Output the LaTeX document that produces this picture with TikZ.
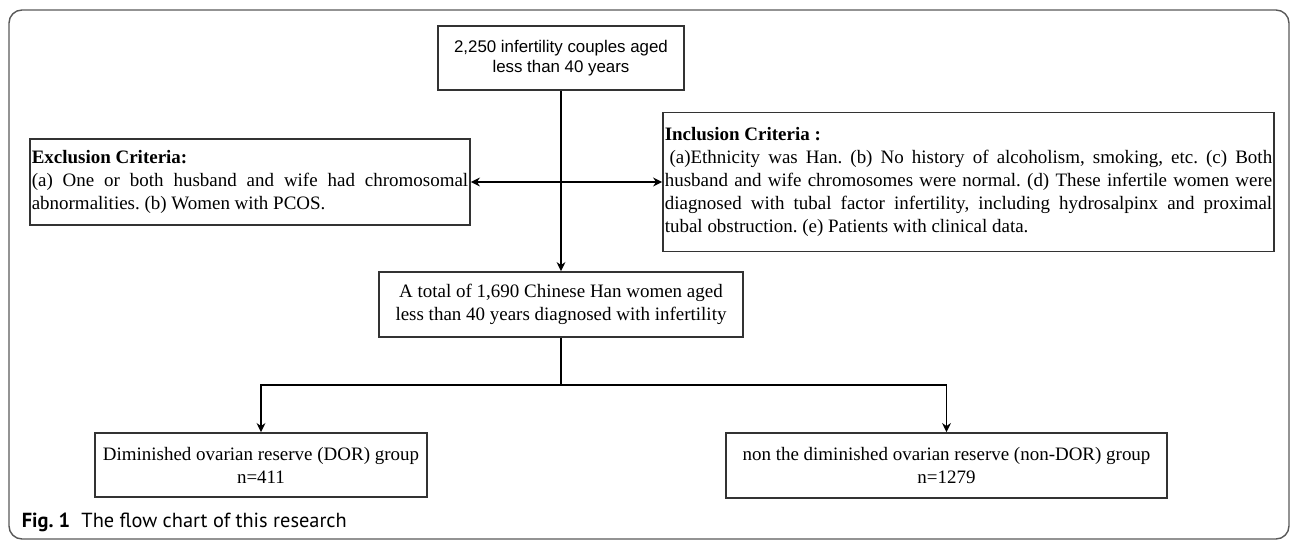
\documentclass[tikz,border=0pt]{standalone}
\usepackage{fontspec}
\setmainfont{Liberation Serif}
\setsansfont{Liberation Sans}
\newfontfamily\capfont{PT Sans}
\usetikzlibrary{arrows.meta}

\begin{document}
\frenchspacing
\begin{tikzpicture}[x=0.02cm, y=-0.02cm, line width=0.9pt, >={Stealth[length=5.2pt, width=5pt]},
        main/.style = {draw=black!80, text=black, inner sep=1pt, align=center, font=\fontsize{10.8}{13}\selectfont},
        crit/.style = {main, align=justify},
        frame/.style = {draw=black!65, line width=0.8pt, rounded corners=0.26cm}]
        \useasboundingbox (0,0) rectangle (1292,540);
        \draw[frame] (9,10) rectangle (1289,539);

        \node[main, font=\sffamily\fontsize{9.6}{11.3}\selectfont, minimum width=4.92cm, minimum height=1.28cm] (couples) at (561,58) {2,250 infertility couples aged\\less than 40 years};
        \node[crit, text width=8.73cm, minimum height=1.72cm] (exclusion) at (250,182) {\textbf{Exclusion Criteria:}\\(a) One or both husband and wife had chromosomal\linebreak abnormalities. (b) Women with PCOS.};
        \node[crit, text width=12.15cm, minimum height=2.78cm] (inclusion) at (968.5,182) {\textbf{Inclusion Criteria :}\\\hspace*{0.25em}(a)Ethnicity was Han. (b) No history of alcoholism, smoking, etc. (c) Both\linebreak husband and wife chromosomes were normal. (d) These infertile women were\linebreak diagnosed with tubal factor infertility, including hydrosalpinx and proximal\linebreak tubal obstruction. (e) Patients with clinical data.};
        \node[main, minimum width=7.28cm, minimum height=1.3cm] (women) at (561,304.5) {A total of 1,690 Chinese Han women aged\\less than 40 years diagnosed with infertility};
        \node[main, minimum width=6.64cm, minimum height=1.28cm] (dor) at (261,465) {Diminished ovarian reserve (DOR) group\\n=411};
        \node[main, minimum width=8.82cm, minimum height=1.3cm] (nondor) at (946.5,465.5) {non the diminished ovarian reserve (non-DOR) group\\n=1279};
        \coordinate (split) at (561,385);
        \node[anchor=base west, inner sep=0pt, font=\capfont\fontsize{11.6}{13}\selectfont] (caption) at (21,527) {\textbf{Fig. 1}\hspace{0.55em}The flow chart of this research};

        \draw[->] (couples) -- (women);
        \draw[<->] (exclusion) -- (inclusion);
        \draw (women) -- (split);
        \draw[->] (split) -| (dor);
        \draw[->] (split) -| (nondor);
\end{tikzpicture}
\end{document}
